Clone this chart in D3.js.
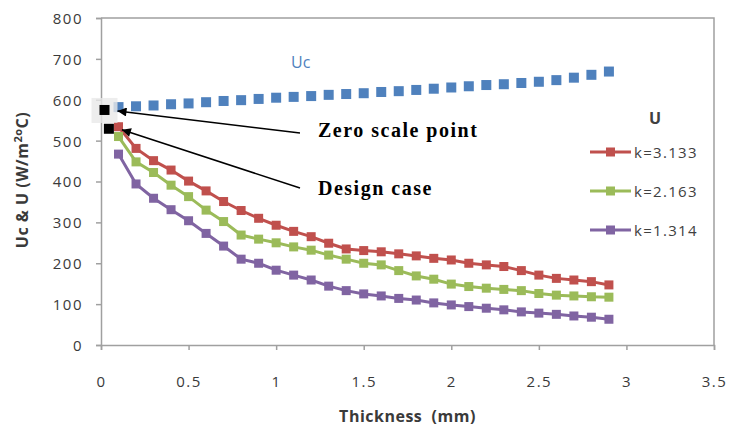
<!DOCTYPE html>
<html>
<head>
<meta charset="utf-8">
<script src="https://d3js.org/d3.v7.min.js"></script>
<style>
    body { margin: 0; background: #fff; }
    .tick text { font-family: "Open Sans", sans-serif; font-size: 15px; fill: #3a3a3a; letter-spacing: 1.5px; }
    .domain, .tick line { stroke: #a0a0a0; stroke-width: 1.5px; }
    .note { font-family: "Liberation Serif", serif; font-weight: bold; font-size: 20px; fill: #000; letter-spacing: 1.5px; }
    .axisTitle { font-family: "Open Sans", sans-serif; font-weight: bold; font-size: 16px; fill: #3a3a3a; letter-spacing: 0.5px; }
    .legendText { font-family: "Open Sans", sans-serif; font-size: 15px; fill: #404040; letter-spacing: 1.3px; }
</style>
</head>
<body>
<div id="chart"></div>
<script>
const svgWidth = 730;
const svgHeight = 428;

const margin = {
    top: 18,
    right: 16,
    bottom: 83,
    left: 101
};

const width = svgWidth - margin.left - margin.right;
const height = svgHeight - margin.top - margin.bottom;

// thickness (mm)
const thickness = [0.1, 0.2, 0.3, 0.4, 0.5, 0.6, 0.7, 0.8, 0.9, 1.0,
    1.1, 1.2, 1.3, 1.4, 1.5, 1.6, 1.7, 1.8, 1.9, 2.0,
    2.1, 2.2, 2.3, 2.4, 2.5, 2.6, 2.7, 2.8, 2.9];

const ucValues = [582, 584, 586, 589, 591, 594, 597, 599, 602, 605,
    607, 609, 612, 614, 616, 619, 621, 624, 627, 630,
    633, 636, 638, 641, 644, 648, 654, 661, 669];

const uK3133 = [534, 481, 451, 428, 401, 377, 351, 329, 310, 293,
    278, 265, 249, 235, 231, 228, 223, 218, 212, 208,
    200, 196, 192, 182, 171, 163, 159, 155, 147];

const uK2163 = [510, 448, 422, 391, 363, 330, 302, 269, 259, 250,
    240, 232, 220, 210, 200, 196, 182, 169, 161, 149,
    143, 139, 136, 133, 126, 122, 120, 118, 117];

const uK1314 = [467, 394, 359, 331, 304, 273, 242, 210, 200, 183,
    171, 159, 144, 133, 125, 120, 114, 110, 103, 98,
    94, 90, 86, 81, 78, 75, 71, 68, 63];

const seriesNames = ["k=3.133", "k=2.163", "k=1.314"];
const seriesColors = ["#c0504d", "#9bbb59", "#8064a2"];
const ucColor = "#4f81bd";

const xTicks = [0, 0.5, 1, 1.5, 2, 2.5, 3, 3.5];
const yTicks = [0, 100, 200, 300, 400, 500, 600, 700, 800];

// the two marked points and their labels
const zeroPoint = { x: 0.02, y: 575, label: "Zero scale point" };
const designPoint = { x: 0.045, y: 529, label: "Design case" };

const svg = d3.select("#chart")
    .append("svg")
    .attr("width", svgWidth)
    .attr("height", svgHeight);

const chartGroup = svg.append("g")
    .attr("transform", `translate(${margin.left}, ${margin.top})`);

const xLinear = d3.scaleLinear().domain([0, 3.5]).range([0, width]);
const yLinear = d3.scaleLinear().domain([0, 800]).range([height, 0]);

// frame (top + right)
chartGroup.append("path")
    .attr("d", `M0,0H${width}V${height}`)
    .attr("fill", "none")
    .attr("stroke", "#a0a0a0")
    .attr("stroke-width", 1.5);

const xAxis = chartGroup.append("g")
    .attr("transform", `translate(0, ${height})`)
    .call(d3.axisBottom(xLinear).tickValues(xTicks).tickFormat(d3.format("~g"))
        .tickSizeOuter(0).tickSize(5).tickPadding(26));

const yAxis = chartGroup.append("g")
    .call(d3.axisLeft(yLinear).tickValues(yTicks).tickSizeOuter(0).tickSize(5).tickPadding(13));

yAxis.selectAll(".tick text").attr("dy", "0.36em");

// Uc: markers only
chartGroup.append("g")
    .selectAll("rect")
    .data(ucValues)
    .enter()
    .append("rect")
    .attr("x", (d, i) => xLinear(thickness[i]) - 5)
    .attr("y", d => yLinear(d) - 5)
    .attr("width", 10)
    .attr("height", 10)
    .attr("fill", ucColor);

chartGroup.append("text")
    .attr("x", xLinear(1.14))
    .attr("y", yLinear(678))
    .attr("text-anchor", "middle")
    .attr("font-family", "Open Sans, sans-serif")
    .attr("font-size", 16)
    .attr("fill", ucColor)
    .text("Uc");

const uSeries = [uK3133, uK2163, uK1314];

const line = d3.line()
    .x((d, i) => xLinear(thickness[i]))
    .y(d => yLinear(d));

uSeries.forEach(function(values, s) {
    const g = chartGroup.append("g");
    g.append("path")
        .datum(values)
        .attr("d", line)
        .attr("fill", "none")
        .attr("stroke", seriesColors[s])
        .attr("stroke-width", 3);
    g.selectAll("rect")
        .data(values)
        .enter()
        .append("rect")
        .attr("x", (d, i) => xLinear(thickness[i]) - 4.5)
        .attr("y", d => yLinear(d) - 4.5)
        .attr("width", 9)
        .attr("height", 9)
        .attr("fill", seriesColors[s]);
});

// highlighted zero scale point
chartGroup.append("rect")
    .attr("x", xLinear(zeroPoint.x) - 13)
    .attr("y", yLinear(zeroPoint.y) - 12)
    .attr("width", 26)
    .attr("height", 25)
    .attr("fill", "#e8e8e8")
    .attr("opacity", 0.8);

[zeroPoint, designPoint].forEach(function(p) {
    chartGroup.append("rect")
        .attr("x", xLinear(p.x) - 5)
        .attr("y", yLinear(p.y) - 5)
        .attr("width", 10)
        .attr("height", 10)
        .attr("fill", "#000");
});

svg.append("defs").append("marker")
    .attr("id", "arrow")
    .attr("viewBox", "0 0 10 10")
    .attr("refX", 10)
    .attr("refY", 5)
    .attr("markerWidth", 12)
    .attr("markerHeight", 9)
    .attr("markerUnits", "userSpaceOnUse")
    .attr("orient", "auto")
    .append("path")
    .attr("d", "M0,0L10,5L0,10Z")
    .attr("fill", "#000");

// arrows from labels to points
const notes = [
    { p: zeroPoint, fromX: 199, fromY: 115, textY: 119 },
    { p: designPoint, fromX: 199, fromY: 170, textY: 177 }
];

notes.forEach(function(n) {
    chartGroup.append("line")
        .attr("x1", n.fromX)
        .attr("y1", n.fromY)
        .attr("x2", xLinear(n.p.x) + 13)
        .attr("y2", yLinear(n.p.y) + 1)
        .attr("stroke", "#000")
        .attr("stroke-width", 1.5)
        .attr("marker-end", "url(#arrow)");
    chartGroup.append("text")
        .attr("x", 217)
        .attr("y", n.textY)
        .attr("class", "note")
        .text(n.p.label);
});

// legend
const legend = svg.append("g")
    .attr("transform", "translate(590, 0)");

legend.append("text")
    .attr("x", 65)
    .attr("y", 124)
    .attr("text-anchor", "middle")
    .attr("font-family", "Open Sans, sans-serif")
    .attr("font-weight", "bold")
    .attr("font-size", 16)
    .attr("fill", "#404040")
    .text("U");

const legendY = [152, 191, 230];
seriesNames.forEach(function(name, s) {
    const item = legend.append("g")
        .attr("transform", `translate(0, ${legendY[s]})`);
    item.append("line")
        .attr("x1", 0)
        .attr("x2", 41)
        .attr("stroke", seriesColors[s])
        .attr("stroke-width", 3);
    item.append("rect")
        .attr("x", 16)
        .attr("y", -4.5)
        .attr("width", 9)
        .attr("height", 9)
        .attr("fill", seriesColors[s]);
    item.append("text")
        .attr("x", 44)
        .attr("y", 5.5)
        .attr("class", "legendText")
        .text(name);
});

// axis titles
svg.append("text")
    .attr("x", margin.left + width / 2)
    .attr("y", 422)
    .attr("text-anchor", "middle")
    .attr("class", "axisTitle")
    .attr("xml:space", "preserve")
    .text("Thickness  (mm)");

const yTitle = svg.append("text")
    .attr("transform", "translate(28, 180) rotate(-90)")
    .attr("text-anchor", "middle")
    .attr("class", "axisTitle");
yTitle.append("tspan").text("Uc & U (W/m");
yTitle.append("tspan").attr("dy", -6).attr("font-size", 11).text("2o");
yTitle.append("tspan").attr("dy", 6).text("C)");
</script>
</body>
</html>
